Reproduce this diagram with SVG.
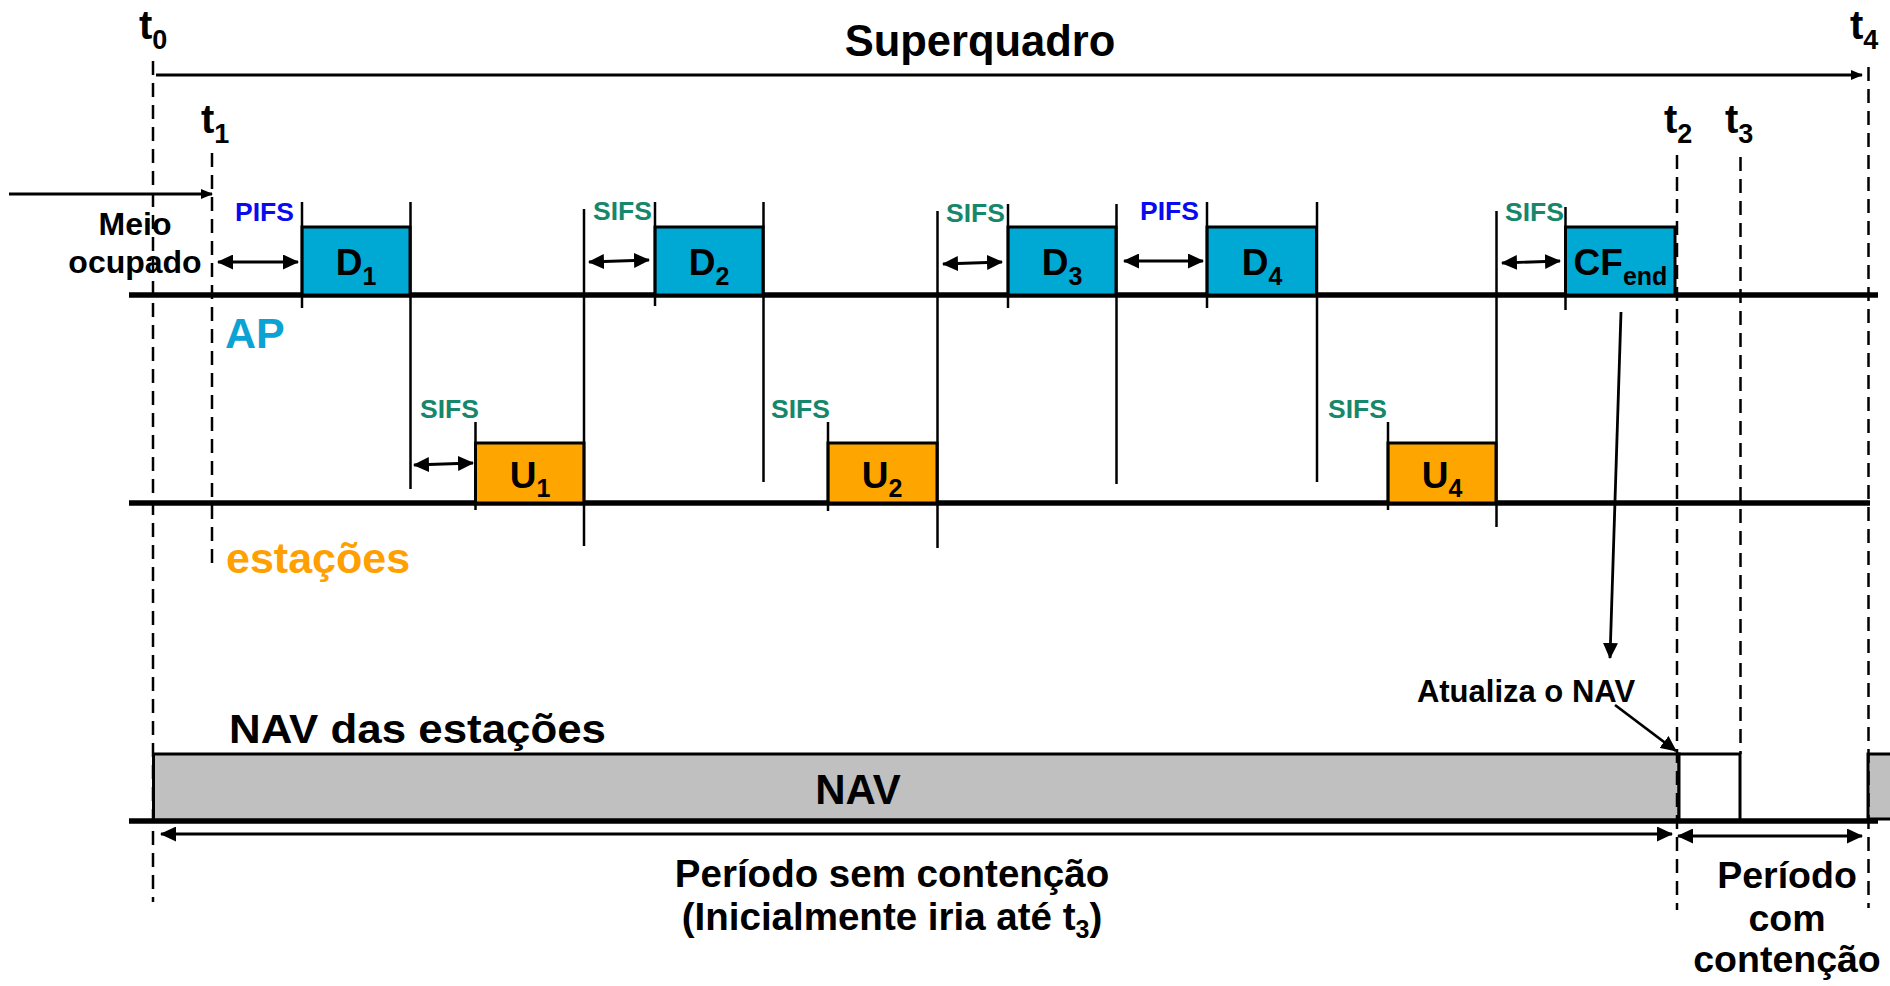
<svg xmlns="http://www.w3.org/2000/svg" width="1890" height="986" viewBox="0 0 1890 986">
<style>
text{font-family:"Liberation Sans",Arial,sans-serif;font-weight:bold;fill:#000}
.lbl{font-size:37px}
.sub{font-size:25px}
.tl{font-size:40px}
.ts{font-size:27px}
.sifs{font-size:26.5px;fill:#17876C}
.pifs{font-size:26.5px;fill:#0A0AF0}
.d{fill:#00A9D3;stroke:#000;stroke-width:3}
.u{fill:#FFA500;stroke:#000;stroke-width:3}
.v{stroke:#000;stroke-width:2.5;fill:none}
.base{stroke:#000;stroke-width:5.5;fill:none}
.dash{stroke:#000;stroke-width:2.5;stroke-dasharray:14 8;fill:none}
.arr{stroke:#000;stroke-width:2.8;fill:none}
.dbl{stroke:#000;stroke-width:2.8;fill:none;marker-start:url(#hb);marker-end:url(#hb)}
</style>
<defs>
<marker id="hb" markerUnits="userSpaceOnUse" markerWidth="16" markerHeight="15" refX="15" refY="7.5" orient="auto-start-reverse" viewBox="0 0 16 15"><path d="M0,0 L16,7.5 L0,15 z" fill="#000"/></marker>
<marker id="hs" markerUnits="userSpaceOnUse" markerWidth="12" markerHeight="10" refX="11" refY="5" orient="auto-start-reverse" viewBox="0 0 12 10"><path d="M0,0 L12,5 L0,10 z" fill="#000"/></marker>
</defs>
<rect width="1890" height="986" fill="#fff"/>

<g id="timeline-labels">
<text class="tl" x="139" y="39">t<tspan class="ts" dy="10">0</tspan></text>
<text class="tl" x="201" y="133">t<tspan class="ts" dy="10">1</tspan></text>
<text class="tl" x="1664" y="133">t<tspan class="ts" dy="10">2</tspan></text>
<text class="tl" x="1725" y="133">t<tspan class="ts" dy="10">3</tspan></text>
<text class="tl" x="1850" y="39">t<tspan class="ts" dy="10">4</tspan></text>
<text x="980" y="56" font-size="43.5" text-anchor="middle">Superquadro</text>
</g>

<g id="meio-ocupado">
<text x="135" y="235" font-size="32" text-anchor="middle">Meio</text>
<text x="135" y="273" font-size="32" text-anchor="middle">ocupado</text>
</g>

<g id="ap-row">
<line class="base" x1="129" y1="295" x2="1878" y2="295"/>
<text x="225" y="348" font-size="43" fill="#0BA3D4" style="fill:#0BA3D4">AP</text>
</g>
<g id="sta-row">
<line class="base" x1="129" y1="503" x2="1870" y2="503"/>
<text x="226" y="573" font-size="43" style="fill:#FFA000">estações</text>
</g>

<g id="D1">
<rect class="d" x="302" y="227" width="108" height="68"/>
<text class="lbl" x="356" y="275" text-anchor="middle">D<tspan class="sub" dy="10">1</tspan></text>
</g>
<g id="D2">
<rect class="d" x="655" y="227" width="108" height="68"/>
<text class="lbl" x="709" y="275" text-anchor="middle">D<tspan class="sub" dy="10">2</tspan></text>
</g>
<g id="D3">
<rect class="d" x="1008" y="227" width="108" height="68"/>
<text class="lbl" x="1062" y="275" text-anchor="middle">D<tspan class="sub" dy="10">3</tspan></text>
</g>
<g id="D4">
<rect class="d" x="1207" y="227" width="109.5" height="68"/>
<text class="lbl" x="1262" y="275" text-anchor="middle">D<tspan class="sub" dy="10">4</tspan></text>
</g>
<g id="CFend">
<rect class="d" x="1565.5" y="227" width="109.5" height="68"/>
<text class="lbl" x="1620.5" y="275" text-anchor="middle">CF<tspan class="sub" dy="10">end</tspan></text>
</g>
<g id="U1">
<rect class="u" x="475.5" y="443" width="108.5" height="60"/>
<text class="lbl" x="530" y="488" text-anchor="middle">U<tspan class="sub" dy="9">1</tspan></text>
</g>
<g id="U2">
<rect class="u" x="828" y="443" width="109" height="60"/>
<text class="lbl" x="882" y="488" text-anchor="middle">U<tspan class="sub" dy="9">2</tspan></text>
</g>
<g id="U4">
<rect class="u" x="1388" y="443" width="108" height="60"/>
<text class="lbl" x="1442" y="488" text-anchor="middle">U<tspan class="sub" dy="9">4</tspan></text>
</g>

<g id="ifs-labels">
<text class="pifs" x="235" y="221">PIFS</text>
<text class="sifs" x="593" y="220">SIFS</text>
<text class="sifs" x="946" y="222">SIFS</text>
<text class="pifs" x="1140" y="220">PIFS</text>
<text class="sifs" x="1505" y="221">SIFS</text>
<text class="sifs" x="420" y="418">SIFS</text>
<text class="sifs" x="771" y="418">SIFS</text>
<text class="sifs" x="1328" y="418">SIFS</text>
</g>

<g id="nav">
<rect x="153.5" y="754" width="1525.5" height="67" fill="#C0C0C0" stroke="#000" stroke-width="3"/>
<rect x="1679" y="754" width="61" height="67" fill="#fff" stroke="#000" stroke-width="3"/>
<rect x="1868" y="754" width="40" height="65" fill="#C0C0C0" stroke="#000" stroke-width="3"/>
<line class="base" x1="129" y1="821" x2="1878" y2="821"/>
<text x="858" y="804" font-size="42" text-anchor="middle">NAV</text>
<text x="229" y="743" font-size="41" textLength="377" lengthAdjust="spacingAndGlyphs">NAV das estações</text>
</g>

<g id="period-labels">
<text x="892" y="887" font-size="38.5" text-anchor="middle">Período sem contenção</text>
<text x="892" y="930" font-size="38.5" text-anchor="middle">(Inicialmente iria até t<tspan font-size="25" dy="8">3</tspan><tspan dy="-8">)</tspan></text>
<text x="1787" y="888" font-size="37.5" text-anchor="middle">Período</text>
<text x="1787" y="931" font-size="37.5" text-anchor="middle">com</text>
<text x="1787" y="972" font-size="37.5" text-anchor="middle">contenção</text>
<text x="1526" y="702" font-size="31" text-anchor="middle">Atualiza o NAV</text>
</g>

<g id="connectors">
<line class="arr" x1="156" y1="75" x2="1862" y2="75" marker-end="url(#hs)"/>
<line class="arr" x1="9" y1="194" x2="212" y2="194" marker-end="url(#hs)"/>
<!-- vertical ticks, AP row -->
<line class="v" x1="302" y1="202" x2="302" y2="308"/>
<line class="v" x1="410.5" y1="202" x2="410.5" y2="489"/>
<line class="v" x1="584" y1="209" x2="584" y2="546"/>
<line class="v" x1="655" y1="202" x2="655" y2="306"/>
<line class="v" x1="763.5" y1="202" x2="763.5" y2="482"/>
<line class="v" x1="937.5" y1="211" x2="937.5" y2="548"/>
<line class="v" x1="1008" y1="204" x2="1008" y2="308"/>
<line class="v" x1="1116.5" y1="204" x2="1116.5" y2="484"/>
<line class="v" x1="1207" y1="202" x2="1207" y2="308"/>
<line class="v" x1="1317" y1="202" x2="1317" y2="482"/>
<line class="v" x1="1496.5" y1="211" x2="1496.5" y2="527"/>
<line class="v" x1="1565.5" y1="207" x2="1565.5" y2="310"/>
<!-- station row ticks -->
<line class="v" x1="475.5" y1="422" x2="475.5" y2="510"/>
<line class="v" x1="828" y1="422" x2="828" y2="511"/>
<line class="v" x1="1388" y1="422" x2="1388" y2="510"/>
<!-- IFS double arrows -->
<line class="dbl" x1="218" y1="262" x2="298" y2="262"/>
<line class="dbl" x1="589" y1="262" x2="649" y2="260"/>
<line class="dbl" x1="943" y1="264" x2="1002" y2="262"/>
<line class="dbl" x1="1124" y1="261" x2="1203" y2="261"/>
<line class="dbl" x1="1502" y1="263" x2="1560" y2="261"/>
<line class="dbl" x1="414" y1="465" x2="473" y2="463"/>
<!-- notes -->
<line class="arr" x1="1621" y1="312" x2="1610" y2="658" marker-end="url(#hb)"/>
<line class="arr" x1="1615" y1="705" x2="1676" y2="751" marker-end="url(#hb)"/>
<line class="dbl" x1="161" y1="834" x2="1672" y2="834"/>
<line class="dbl" x1="1678" y1="836" x2="1862" y2="836"/>
<!-- time markers -->
<line class="dash" x1="153" y1="61" x2="153" y2="902"/>
<line class="dash" x1="212" y1="153" x2="212" y2="569"/>
<line class="dash" x1="1677" y1="155" x2="1677" y2="910"/>
<line class="dash" x1="1740.5" y1="157" x2="1740.5" y2="754"/>
<line class="dash" x1="1868.5" y1="67" x2="1868.5" y2="908"/>
</g>
</svg>
